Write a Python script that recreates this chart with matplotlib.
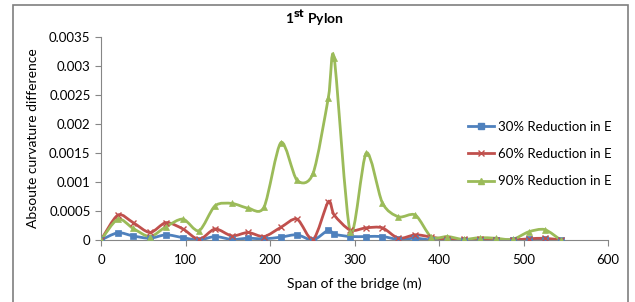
import matplotlib
matplotlib.use("Agg")
import matplotlib.pyplot as plt
from matplotlib.path import Path
from matplotlib.patches import PathPatch, Rectangle

span = [0, 20, 38, 58, 77, 97, 116, 135, 155, 174, 193, 213, 232, 251, 269,
        276, 295, 314, 333, 352, 372, 391, 410, 429, 448, 467, 487, 506, 525, 544]

red30 = [0, 0.000125, 0.00007, 0.00003, 0.00009, 0.00004, 0.0, 0.00006, 0.00001,
         0.00003, 0.00002, 0.00005, 0.00009, 0.0, 0.00017, 0.0001, 0.00006,
         0.00006, 0.00006, 0.00001, 0.00003, 0.0, 0.0, 0.0, 0.0, 0.0, 0.0,
         0.00001, 0.00001, 0.0]
red60 = [0, 0.00043, 0.0003, 0.00013, 0.0003, 0.00019, 0.00001, 0.00019, 0.00007,
         0.00013, 0.00006, 0.00022, 0.00036, 0.00001, 0.00066, 0.00043, 0.00017,
         0.00021, 0.00021, 0.00003, 0.00009, 0.00005, 0.00001, 0.00001, 0.00001,
         0.0, 0.0, 0.00002, 0.00003, 0.0]
red90 = [0, 0.00036, 0.0002, 0.00006, 0.00023, 0.00036, 0.00016, 0.00059, 0.00063,
         0.00055, 0.00057, 0.00168, 0.00103, 0.00115, 0.00245, 0.00313, 0.00014,
         0.0015, 0.00064, 0.0004, 0.00043, 0.00005, 0.00006, 0.00001, 0.00004,
         0.00003, 0.00001, 0.00014, 0.00018, 0.0]

labels = ["30% Reduction in E", "60% Reduction in E", "90% Reduction in E"]
colors = ["#4F81BD", "#C0504D", "#9BBB59"]
markers = ["s", "x", "^"]

plt.rcParams['font.family'] = ['Lato', 'DejaVu Sans']


def smooth_path(xs, ys, t=0.14):
    # Excel style smoothed line: cubic bezier through every point
    pts = list(zip(xs, ys))
    verts = [pts[0]]
    codes = [Path.MOVETO]
    n = len(pts)
    for i in range(n - 1):
        p0 = pts[i - 1] if i > 0 else pts[i]
        p1 = pts[i]
        p2 = pts[i + 1]
        p3 = pts[i + 2] if i + 2 < n else pts[i + 1]
        c1 = (p1[0] + (p2[0] - p0[0]) * t, p1[1] + (p2[1] - p0[1]) * t)
        c2 = (p2[0] - (p3[0] - p1[0]) * t, p2[1] - (p3[1] - p1[1]) * t)
        verts += [c1, c2, p2]
        codes += [Path.CURVE4] * 3
    return Path(verts, codes)


fig = plt.figure(figsize=(6.35, 3.02), dpi=100)
fig.patches.append(Rectangle((13 / 635, -0.05), 615 / 635, 1.05 - 5 / 302,
                             transform=fig.transFigure, fill=False,
                             edgecolor="#7f7f7f", linewidth=1.2))
ax = fig.add_axes([101 / 635, 1 - 240 / 302, 507 / 635, 203 / 302])

for ys, c, m, lab in zip([red30, red60, red90], colors, markers, labels):
    ax.add_patch(PathPatch(smooth_path(span, ys), facecolor="none",
                           edgecolor=c, linewidth=2, zorder=2))
    ax.plot(span, ys, linestyle="none", marker=m, color=c, markersize=5,
            markeredgewidth=1 if m == "x" else 0.5, zorder=3)
    ax.plot([], [], color=c, marker=m, markersize=4, linewidth=2, label=lab)

ax.set_xlim(0, 600)
ax.set_ylim(0, 0.0035)
ax.set_xticks(range(0, 601, 100))
ax.set_yticks([0, 0.0005, 0.001, 0.0015, 0.002, 0.0025, 0.003, 0.0035])
ax.set_yticklabels(["0", "0.0005", "0.001", "0.0015", "0.002", "0.0025",
                    "0.003", "0.0035"])
for s in ["top", "right"]:
    ax.spines[s].set_visible(False)
for s in ["left", "bottom"]:
    ax.spines[s].set_color("#868686")
ax.tick_params(colors="#868686", labelcolor="black", labelsize=9.5, length=4)
ax.tick_params(axis="x", pad=6)

ax.set_xlabel("Span of the bridge (m)", fontsize=10, labelpad=8)
ax.set_ylabel("Absoute curvature difference", fontsize=10, labelpad=7)
ax.set_title(r"1$^{\mathbf{st}}$ Pylon", fontsize=10, fontweight="bold", pad=10,
             x=0.42)

ax.legend(loc="upper left", bbox_to_anchor=(0.70, 0.645), frameon=False,
          fontsize=9.5, handlelength=2.0, handletextpad=0.3, labelspacing=1.15)

fig.savefig("out.png", dpi=100)
